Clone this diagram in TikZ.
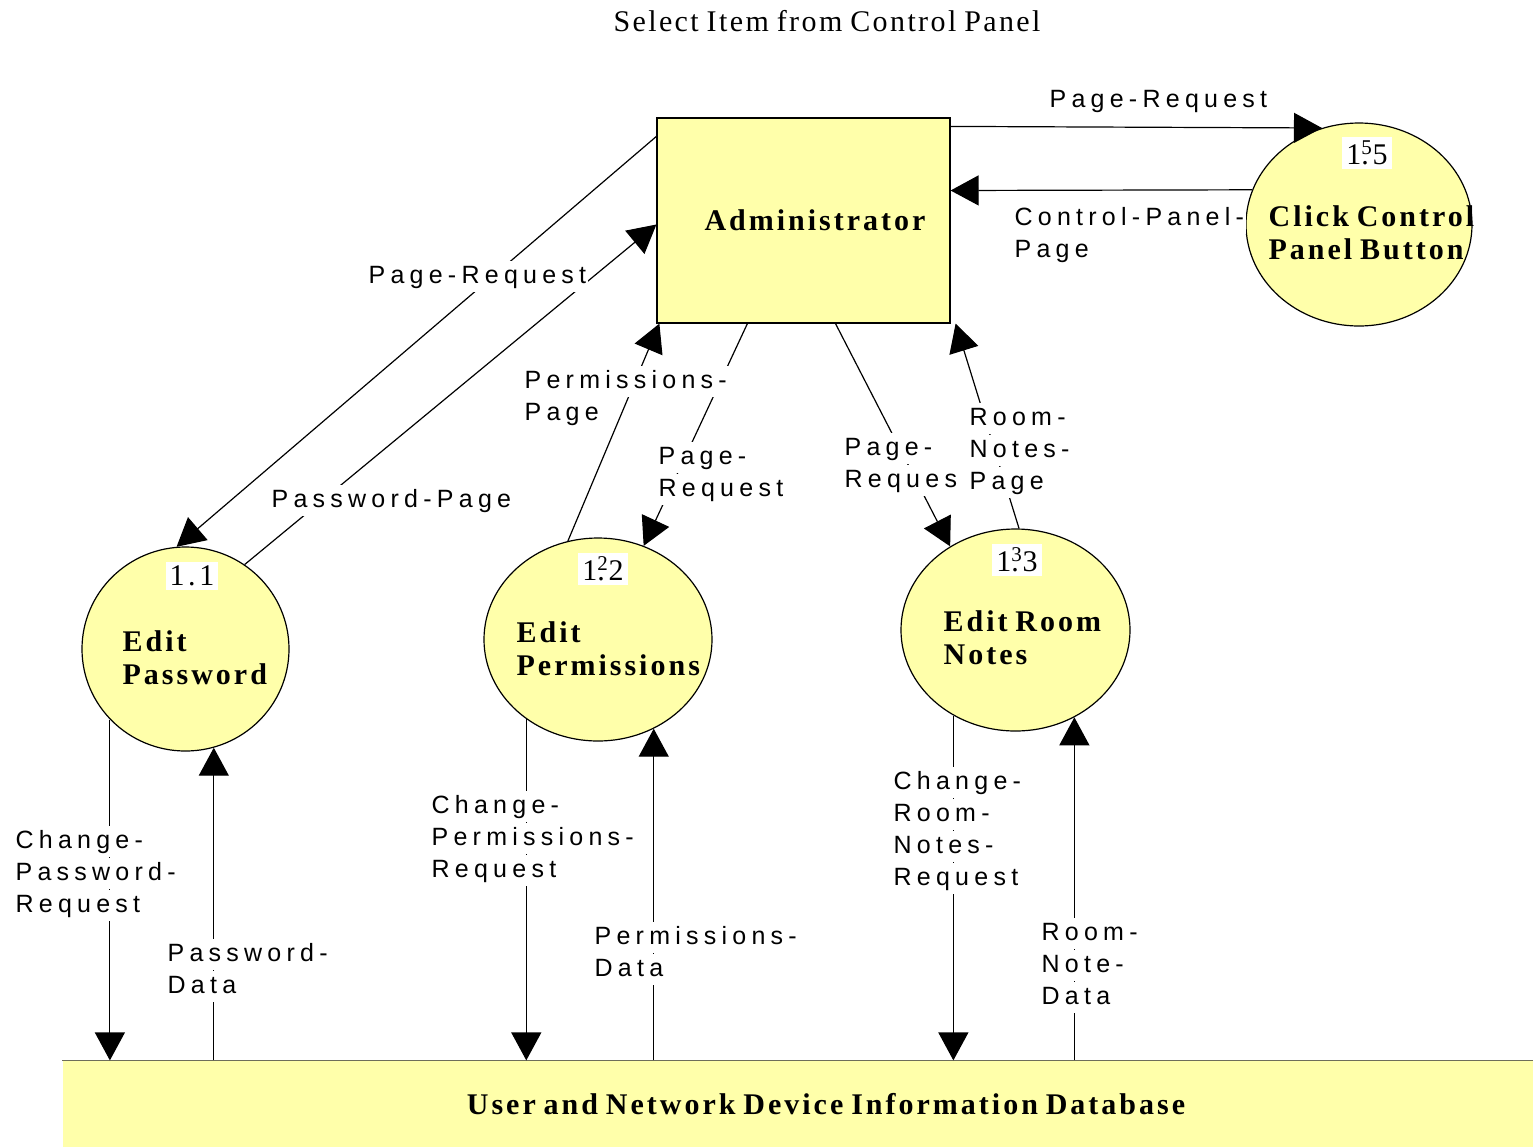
\documentclass[tikz,border=0pt]{standalone}
\usepackage{fontspec}
\usepackage{tikz}
\usetikzlibrary{arrows.meta,shapes.geometric}
\newfontfamily\flowfont[LetterSpace=21]{Liberation Sans}
\newfontfamily\procfont[LetterSpace=10,WordSpace=0.75]{Liberation Serif}
\newfontfamily\titlefont[LetterSpace=8,WordSpace=0.8]{Liberation Serif}
\newfontfamily\numfont[LetterSpace=12]{Liberation Serif}
\definecolor{procyellow}{RGB}{255,255,170}
\definecolor{storeline}{RGB}{110,110,90}
% white box behind one line of a flow label
\newcommand{\wl}[1]{{\setlength{\fboxsep}{1pt}\colorbox{white}{\rule[-3.5pt]{0pt}{13.3pt}#1}}}

\begin{document}
\begin{tikzpicture}[x=0.5pt,y=-0.5pt,>={Triangle[length=14pt,width=15pt]},
                    line width=0.6pt]

  \tikzstyle{process}=[ellipse,draw,fill=procyellow,inner sep=0pt]
  \tikzstyle{ptext}=[align=left,inner sep=0pt,font={\procfont\bfseries\fontsize{15}{16.5}\selectfont}]
  \tikzstyle{flowlabel}=[align=left,inner sep=0pt,font={\flowfont\fontsize{12.5}{16}\selectfont}]
  \tikzstyle{numbox}=[fill=white,inner sep=2pt,font={\numfont\fontsize{15}{16}\selectfont}]
  \tikzstyle{flow}=[->]

  \useasboundingbox (0,0) rectangle (1533,1147);

  \node[font={\titlefont\fontsize{15}{18}\selectfont}] (title) at (827,21) {Select Item from Control Panel};

  \node[draw,fill=procyellow,minimum width=146.5pt,minimum height=102.5pt,inner sep=0pt,
        font={\procfont\bfseries\fontsize{15}{16.5}\selectfont}] (admin) at (803.5,220.5) {\hspace*{11.5pt}Administrator};
  \node[process,minimum width=103.5pt,minimum height=102pt]   (c11) at (185.5,649) {};
  \node[process,minimum width=114pt,minimum height=101.5pt]   (c12) at (598,639.5) {};
  \node[process,minimum width=114.5pt,minimum height=101pt]   (c13) at (1015.5,630) {};
  \node[process,minimum width=113pt,minimum height=101.5pt]   (c15) at (1359,224.5) {};
  \node[fill=procyellow,minimum width=735pt,minimum height=43pt,inner sep=0pt,
        font={\procfont\bfseries\fontsize{15}{16.5}\selectfont}] (db) at (798,1104) {\hspace*{28pt}User and Network Device Information Database};
  \draw[storeline] (db.north west) -- (db.north east);

  % base anchor = baseline of the last line
  \node[ptext,anchor=base west] (t11) at (122,684)  {Edit\\Password};
  \node[ptext,anchor=base west] (t12) at (516,675)  {Edit\\Permissions};
  \node[ptext,anchor=base west] (t13) at (943,664)  {Edit Room\\Notes};
  \node[ptext,anchor=base west] (t15) at (1268,259) {Click Control\\Panel Button};

  % flows between the administrator and the processes
  \draw[flow] ([yshift=-4.5pt]admin.north east) -- (c15.111);
  \draw[flow] (c15.162) -- ([yshift=15pt]admin.east);
  \draw[flow] ([yshift=-9.5pt]admin.north west) -- (c11.95);
  \draw[flow] (c11.55) -- ([yshift=-2pt]admin.west);
  \draw[flow] (c12.107) -- ([xshift=1.5pt]admin.south west);
  \draw[flow] ([xshift=45.5pt]admin.south west) -- (c12.64);
  \draw[flow] ([xshift=16pt]admin.south) -- (c13.128);
  \draw[flow] (c13.88) -- ([xshift=2.5pt]admin.south east);

  % flows to and from the database
  \draw[flow] (c11.223) -- (c11.223 |- db.north);
  \draw[flow] (c11.286 |- db.north) -- (c11.286);
  \draw[flow] (c12.228) -- (c12.228 |- db.north);
  \draw[flow] (c12.302 |- db.north) -- (c12.302);
  \draw[flow] (c13.234) -- (c13.234 |- db.north);
  \draw[flow] (c13.304 |- db.north) -- (c13.304);

  \node[flowlabel,anchor=base west] (l1)  at (1047,107) {\wl{Page-Request}};
  \node[flowlabel,anchor=base west] (l2)  at (1012,257) {\wl{Control-Panel-}\\\wl{Page}};
  \node[flowlabel,anchor=base west] (l3)  at (366,283)  {\wl{Page-Request}};
  \node[flowlabel,anchor=base west] (l4)  at (269,507)  {\wl{Password-Page}};
  \node[flowlabel,anchor=base west] (l5)  at (522,420)  {\wl{Permissions-}\\\wl{Page}};
  \node[flowlabel,anchor=base west] (l6)  at (656,496)  {\wl{Page-}\\\wl{Request}};
  \node[flowlabel,anchor=base west] (l7)  at (842,487)  {\wl{Page-}\\\wl{Reques}};
  \node[flowlabel,anchor=base west] (l8)  at (967,489)  {\wl{Room-}\\\wl{Notes-}\\\wl{Page}};
  \node[flowlabel,anchor=base west] (l9)  at (13,912)   {\wl{Change-}\\\wl{Password-}\\\wl{Request}};
  \node[flowlabel,anchor=base west] (l10) at (165,993)  {\wl{Password-}\\\wl{Data}};
  \node[flowlabel,anchor=base west] (l11) at (429,877)  {\wl{Change-}\\\wl{Permissions-}\\\wl{Request}};
  \node[flowlabel,anchor=base west] (l12) at (592,976)  {\wl{Permissions-}\\\wl{Data}};
  \node[flowlabel,anchor=base west] (l13) at (891,885)  {\wl{Change-}\\\wl{Room-}\\\wl{Notes-}\\\wl{Request}};
  \node[flowlabel,anchor=base west] (l14) at (1039,1004) {\wl{Room-}\\\wl{Note-}\\\wl{Data}};

  \node[numbox] (n11) at (192,576)  {1.1};
  \node[numbox] (n12) at (603,569)  {1\rlap{\textsuperscript{2}}.2};
  \node[numbox] (n13) at (1017,560) {1\rlap{\textsuperscript{3}}.3};
  \node[numbox] (n15) at (1367,153) {1\rlap{\textsuperscript{5}}.5};
\end{tikzpicture}
\end{document}
